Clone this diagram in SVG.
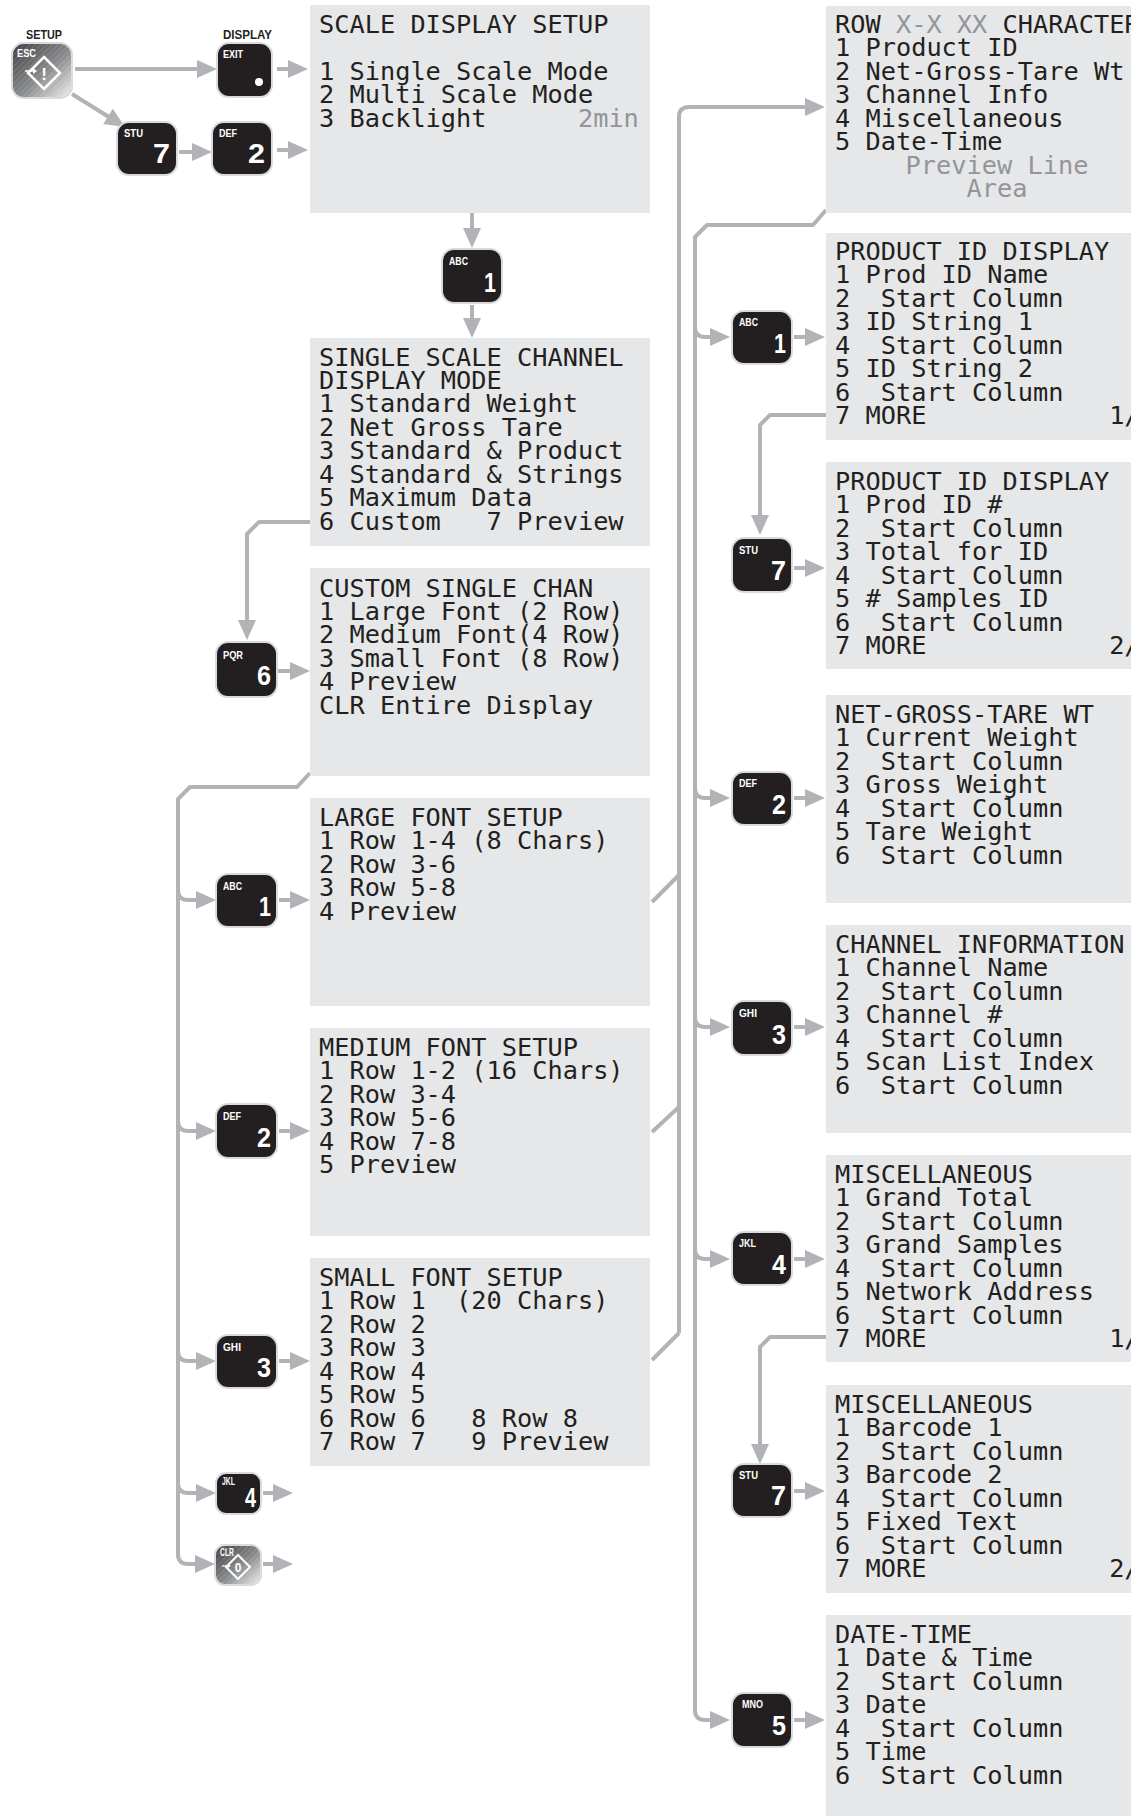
<svg xmlns="http://www.w3.org/2000/svg" width="1145" height="1816" viewBox="0 0 1145 1816">
<style>
.box{fill:#e6e7e8}
.t{font-family:"DejaVu Sans Mono","Liberation Mono",monospace;font-size:25.3px;fill:#231f20;white-space:pre}
.g{fill:#939598}
.c{fill:none;stroke:#b1b3b6;stroke-width:4;stroke-linejoin:round}
.ca{fill:none;stroke:#b1b3b6;stroke-width:4;stroke-linejoin:round;marker-end:url(#ah)}
.key{fill:#231f20;stroke:#d9dadb;stroke-width:2}
.kl{font-family:"Liberation Sans",Arial,sans-serif;font-weight:bold;font-size:11px;fill:#ffffff}
.kd{font-family:"Liberation Sans",Arial,sans-serif;font-weight:bold;font-size:28px;fill:#ffffff;text-anchor:end}
.top{font-family:"Liberation Sans",Arial,sans-serif;font-weight:bold;font-size:13px;fill:#231f20}
</style>
<defs>
<marker id="ah" markerUnits="userSpaceOnUse" markerWidth="22" markerHeight="20" refX="2" refY="9" orient="auto" overflow="visible"><path d="M0,0 L20,9 L0,18 Z" fill="#b1b3b6"/></marker>
<linearGradient id="sg" x1="0" y1="0" x2="1" y2="1"><stop offset="0" stop-color="#3c3c3e"/><stop offset="0.55" stop-color="#8a8b8d"/><stop offset="1" stop-color="#f2f2f2"/></linearGradient>
<pattern id="hatch" width="4" height="4" patternUnits="userSpaceOnUse" patternTransform="rotate(45)"><rect width="4" height="4" fill="none"/><line x1="0" y1="0" x2="0" y2="4" stroke="#ffffff" stroke-opacity="0.18" stroke-width="1.5"/></pattern>
<clipPath id="rc"><rect x="0" y="0" width="1131" height="1816"/></clipPath>
</defs>

<g id="connectors">
<path class="ca" d="M75,69 H199"/>
<path class="ca" d="M277,69 H290"/>
<path class="ca" d="M72,94 L109.7,117.5"/>
<path class="ca" d="M179,152 H194"/>
<path class="ca" d="M277,150 H290"/>
<path class="ca" d="M472,213 V230"/>
<path class="ca" d="M472,305 V320"/>
<path class="ca" d="M310,522 H259 L247,534 V622"/>
<path class="ca" d="M278,671 H292"/>
<path class="ca" d="M310,773 L297,787 H190 L178,799 V1554 Q178,1564 188,1564 H197"/>
<path class="ca" d="M178,890 Q178,900 188,900 H198"/>
<path class="ca" d="M178,1121 Q178,1131 188,1131 H198"/>
<path class="ca" d="M178,1351 Q178,1361 188,1361 H198"/>
<path class="ca" d="M178,1483 Q178,1493 188,1493 H198"/>
<path class="ca" d="M279,900 H292"/>
<path class="ca" d="M279,1131 H292"/>
<path class="ca" d="M279,1361 H292"/>
<path class="ca" d="M263,1493 H275"/>
<path class="ca" d="M263,1564 H275"/>
<path class="c" d="M652,902 L679,875"/>
<path class="c" d="M652,1132 L679,1107"/>
<path class="c" d="M652,1360 L679,1333"/>
<path class="ca" d="M679,1333 V117 Q679,107 689,107 H807"/>
<path class="ca" d="M826,210 L813,225 H707 L695,237 V1710 Q695,1720 705,1720 H712"/>
<path class="ca" d="M695,327 Q695,337 705,337 H712"/>
<path class="ca" d="M695,788 Q695,798 705,798 H712"/>
<path class="ca" d="M695,1017 Q695,1027 705,1027 H712"/>
<path class="ca" d="M695,1249 Q695,1259 705,1259 H712"/>
<path class="ca" d="M794,337 H807"/>
<path class="ca" d="M794,568 H807"/>
<path class="ca" d="M794,798 H807"/>
<path class="ca" d="M794,1027 H807"/>
<path class="ca" d="M794,1259 H807"/>
<path class="ca" d="M794,1491 H807"/>
<path class="ca" d="M794,1720 H807"/>
<path class="ca" d="M826,415 H770 L760,425 V517"/>
<path class="ca" d="M826,1337 H770 L760,1347 V1446"/>
</g>

<g id="key-setup">
<text class="top" x="26" y="39" textLength="36" lengthAdjust="spacingAndGlyphs">SETUP</text>
<rect x="12" y="43" width="60" height="55" rx="12" fill="url(#sg)" stroke="#d9dadb" stroke-width="2"/>
<rect x="12" y="43" width="60" height="55" rx="12" fill="url(#hatch)"/>
<text class="kl" x="17" y="57" textLength="19" lengthAdjust="spacingAndGlyphs">ESC</text>
<path d="M44,57 L60,73 L44,89 L28,73 Z" fill="none" stroke="#ffffff" stroke-width="2.5"/>
<path d="M25,71 H33" stroke="#ffffff" stroke-width="1.5"/>
<path d="M33,68 L37,71 L33,74 Z" fill="#ffffff"/>
<text x="44" y="80" font-family="Liberation Sans,Arial,sans-serif" font-weight="bold" font-size="17" fill="#ffffff" text-anchor="middle">!</text>
</g>

<g id="key-exit">
<text class="top" x="223" y="39" textLength="49" lengthAdjust="spacingAndGlyphs">DISPLAY</text>
<rect class="key" x="217" y="43" width="55" height="54" rx="12"/>
<text class="kl" x="223" y="58" textLength="20" lengthAdjust="spacingAndGlyphs">EXIT</text>
<circle cx="259" cy="82" r="4" fill="#ffffff"/>
</g>

<g id="key-stu7-top">
<rect class="key" x="117" y="122" width="60" height="53" rx="12"/>
<text class="kl" x="124" y="137" textLength="19" lengthAdjust="spacingAndGlyphs">STU</text>
<text class="kd" x="170" y="163" textLength="17" lengthAdjust="spacingAndGlyphs">7</text>
</g>
<g id="key-def2-top">
<rect class="key" x="212" y="122" width="60" height="53" rx="12"/>
<text class="kl" x="219" y="137" textLength="18" lengthAdjust="spacingAndGlyphs">DEF</text>
<text class="kd" x="265" y="163" textLength="17" lengthAdjust="spacingAndGlyphs">2</text>
</g>
<g id="key-abc1-mid">
<rect class="key" x="442" y="249" width="60" height="54" rx="12"/>
<text class="kl" x="449" y="265" textLength="19" lengthAdjust="spacingAndGlyphs">ABC</text>
<text class="kd" x="496" y="292" textLength="12" lengthAdjust="spacingAndGlyphs">1</text>
</g>
<g id="key-pqr6">
<rect class="key" x="216" y="642" width="61" height="55" rx="12"/>
<text class="kl" x="223" y="659" textLength="20" lengthAdjust="spacingAndGlyphs">PQR</text>
<text class="kd" x="271" y="685" textLength="14" lengthAdjust="spacingAndGlyphs">6</text>
</g>
<g id="key-abc1-left">
<rect class="key" x="216" y="874" width="61" height="53" rx="12"/>
<text class="kl" x="223" y="890" textLength="19" lengthAdjust="spacingAndGlyphs">ABC</text>
<text class="kd" x="271" y="916" textLength="12" lengthAdjust="spacingAndGlyphs">1</text>
</g>
<g id="key-def2-left">
<rect class="key" x="216" y="1104" width="61" height="54" rx="12"/>
<text class="kl" x="223" y="1120" textLength="18" lengthAdjust="spacingAndGlyphs">DEF</text>
<text class="kd" x="271" y="1147" textLength="14" lengthAdjust="spacingAndGlyphs">2</text>
</g>
<g id="key-ghi3-left">
<rect class="key" x="216" y="1335" width="61" height="53" rx="12"/>
<text class="kl" x="223" y="1351" textLength="18" lengthAdjust="spacingAndGlyphs">GHI</text>
<text class="kd" x="271" y="1377" textLength="14" lengthAdjust="spacingAndGlyphs">3</text>
</g>
<g id="key-jkl4-left">
<rect class="key" x="216" y="1473" width="45" height="41" rx="10"/>
<text class="kl" x="222" y="1485" font-size="9" textLength="13" lengthAdjust="spacingAndGlyphs">JKL</text>
<text class="kd" x="256" y="1507" font-size="22" textLength="11" lengthAdjust="spacingAndGlyphs">4</text>
</g>
<g id="key-clr">
<rect x="215" y="1545" width="46" height="40" rx="10" fill="url(#sg)" stroke="#d9dadb" stroke-width="2"/>
<rect x="215" y="1545" width="46" height="40" rx="10" fill="url(#hatch)"/>
<text class="kl" x="220" y="1556" font-size="9" textLength="14" lengthAdjust="spacingAndGlyphs">CLR</text>
<path d="M238,1555 L250,1567 L238,1579 L226,1567 Z" fill="none" stroke="#ffffff" stroke-width="2"/>
<path d="M222,1566 H228" stroke="#ffffff" stroke-width="1.2"/>
<path d="M228,1564 L231,1566 L228,1568 Z" fill="#ffffff"/>
<text x="238" y="1572" font-family="Liberation Sans,Arial,sans-serif" font-weight="bold" font-size="12" fill="#ffffff" text-anchor="middle">0</text>
</g>

<g id="key-abc1-right">
<rect class="key" x="732" y="311" width="60" height="53" rx="12"/>
<text class="kl" x="739" y="326" textLength="19" lengthAdjust="spacingAndGlyphs">ABC</text>
<text class="kd" x="786" y="353" textLength="12" lengthAdjust="spacingAndGlyphs">1</text>
</g>
<g id="key-stu7-r1">
<rect class="key" x="732" y="538" width="60" height="54" rx="12"/>
<text class="kl" x="739" y="554" textLength="19" lengthAdjust="spacingAndGlyphs">STU</text>
<text class="kd" x="786" y="580" textLength="15" lengthAdjust="spacingAndGlyphs">7</text>
</g>
<g id="key-def2-right">
<rect class="key" x="732" y="772" width="60" height="53" rx="12"/>
<text class="kl" x="739" y="787" textLength="18" lengthAdjust="spacingAndGlyphs">DEF</text>
<text class="kd" x="786" y="814" textLength="14" lengthAdjust="spacingAndGlyphs">2</text>
</g>
<g id="key-ghi3-right">
<rect class="key" x="732" y="1001" width="60" height="54" rx="12"/>
<text class="kl" x="739" y="1017" textLength="18" lengthAdjust="spacingAndGlyphs">GHI</text>
<text class="kd" x="786" y="1044" textLength="14" lengthAdjust="spacingAndGlyphs">3</text>
</g>
<g id="key-jkl4-right">
<rect class="key" x="732" y="1232" width="60" height="53" rx="12"/>
<text class="kl" x="739" y="1247" textLength="17" lengthAdjust="spacingAndGlyphs">JKL</text>
<text class="kd" x="786" y="1274" textLength="14" lengthAdjust="spacingAndGlyphs">4</text>
</g>
<g id="key-stu7-r2">
<rect class="key" x="732" y="1464" width="60" height="53" rx="12"/>
<text class="kl" x="739" y="1479" textLength="19" lengthAdjust="spacingAndGlyphs">STU</text>
<text class="kd" x="786" y="1505" textLength="15" lengthAdjust="spacingAndGlyphs">7</text>
</g>
<g id="key-mno5">
<rect class="key" x="732" y="1693" width="60" height="54" rx="12"/>
<text class="kl" x="742" y="1708" textLength="21" lengthAdjust="spacingAndGlyphs">MNO</text>
<text class="kd" x="786" y="1735" textLength="14" lengthAdjust="spacingAndGlyphs">5</text>
</g>

<g id="box-scale-display-setup">
<rect class="box" x="310" y="5" width="340" height="208"/>
<text class="t" xml:space="preserve" x="319" y="33"><tspan x="319" y="33">SCALE DISPLAY SETUP</tspan><tspan x="319" y="79.9">1 Single Scale Mode</tspan><tspan x="319" y="103.3">2 Multi Scale Mode</tspan><tspan x="319" y="126.7">3 Backlight      <tspan class="g">2min</tspan></tspan></text>
</g>

<g id="box-single-scale">
<rect class="box" x="310" y="338" width="340" height="208"/>
<text class="t" xml:space="preserve"><tspan x="319" y="365.5">SINGLE SCALE CHANNEL</tspan><tspan x="319" y="388.9">DISPLAY MODE</tspan><tspan x="319" y="412.4">1 Standard Weight</tspan><tspan x="319" y="435.8">2 Net Gross Tare</tspan><tspan x="319" y="459.2">3 Standard &amp; Product</tspan><tspan x="319" y="482.7">4 Standard &amp; Strings</tspan><tspan x="319" y="506.1">5 Maximum Data</tspan><tspan x="319" y="529.5">6 Custom   7 Preview</tspan></text>
</g>

<g id="box-custom-single">
<rect class="box" x="310" y="568" width="340" height="208"/>
<text class="t" xml:space="preserve"><tspan x="319" y="596.5">CUSTOM SINGLE CHAN</tspan><tspan x="319" y="619.9">1 Large Font (2 Row)</tspan><tspan x="319" y="643.4">2 Medium Font(4 Row)</tspan><tspan x="319" y="666.8">3 Small Font (8 Row)</tspan><tspan x="319" y="690.2">4 Preview</tspan><tspan x="319" y="713.7">CLR Entire Display</tspan></text>
</g>

<g id="box-large-font">
<rect class="box" x="310" y="798" width="340" height="208"/>
<text class="t" xml:space="preserve"><tspan x="319" y="826">LARGE FONT SETUP</tspan><tspan x="319" y="849.4">1 Row 1-4 (8 Chars)</tspan><tspan x="319" y="872.9">2 Row 3-6</tspan><tspan x="319" y="896.3">3 Row 5-8</tspan><tspan x="319" y="919.7">4 Preview</tspan></text>
</g>

<g id="box-medium-font">
<rect class="box" x="310" y="1028" width="340" height="208"/>
<text class="t" xml:space="preserve"><tspan x="319" y="1056">MEDIUM FONT SETUP</tspan><tspan x="319" y="1079.4">1 Row 1-2 (16 Chars)</tspan><tspan x="319" y="1102.9">2 Row 3-4</tspan><tspan x="319" y="1126.3">3 Row 5-6</tspan><tspan x="319" y="1149.7">4 Row 7-8</tspan><tspan x="319" y="1173.2">5 Preview</tspan></text>
</g>

<g id="box-small-font">
<rect class="box" x="310" y="1258" width="340" height="208"/>
<text class="t" xml:space="preserve"><tspan x="319" y="1286">SMALL FONT SETUP</tspan><tspan x="319" y="1309.4">1 Row 1  (20 Chars)</tspan><tspan x="319" y="1332.9">2 Row 2</tspan><tspan x="319" y="1356.3">3 Row 3</tspan><tspan x="319" y="1379.7">4 Row 4</tspan><tspan x="319" y="1403.2">5 Row 5</tspan><tspan x="319" y="1426.6">6 Row 6   8 Row 8</tspan><tspan x="319" y="1450">7 Row 7   9 Preview</tspan></text>
</g>

<g id="box-row-characters" clip-path="url(#rc)">
<rect class="box" x="826" y="6" width="305" height="207"/>
<text class="t" xml:space="preserve"><tspan x="835" y="33">ROW <tspan class="g">X-X XX</tspan> CHARACTERS</tspan><tspan x="835" y="56.4">1 Product ID</tspan><tspan x="835" y="79.9">2 Net-Gross-Tare Wt</tspan><tspan x="835" y="103.3">3 Channel Info</tspan><tspan x="835" y="126.7">4 Miscellaneous</tspan><tspan x="835" y="150.2">5 Date-Time</tspan></text>
<text class="t g" text-anchor="middle"><tspan x="997" y="173.6">Preview Line</tspan><tspan x="997" y="197">Area</tspan></text>
</g>

<g id="box-product-id-1" clip-path="url(#rc)">
<rect class="box" x="826" y="233" width="305" height="207"/>
<text class="t" xml:space="preserve"><tspan x="835" y="260">PRODUCT ID DISPLAY</tspan><tspan x="835" y="283.4">1 Prod ID Name</tspan><tspan x="835" y="306.9">2  Start Column</tspan><tspan x="835" y="330.3">3 ID String 1</tspan><tspan x="835" y="353.7">4  Start Column</tspan><tspan x="835" y="377.2">5 ID String 2</tspan><tspan x="835" y="400.6">6  Start Column</tspan><tspan x="835" y="424">7 MORE            1/2</tspan></text>
</g>

<g id="box-product-id-2" clip-path="url(#rc)">
<rect class="box" x="826" y="462" width="305" height="207"/>
<text class="t" xml:space="preserve"><tspan x="835" y="490">PRODUCT ID DISPLAY</tspan><tspan x="835" y="513.4">1 Prod ID #</tspan><tspan x="835" y="536.9">2  Start Column</tspan><tspan x="835" y="560.3">3 Total for ID</tspan><tspan x="835" y="583.7">4  Start Column</tspan><tspan x="835" y="607.2">5 # Samples ID</tspan><tspan x="835" y="630.6">6  Start Column</tspan><tspan x="835" y="654">7 MORE            2/2</tspan></text>
</g>

<g id="box-net-gross-tare" clip-path="url(#rc)">
<rect class="box" x="826" y="695" width="305" height="208"/>
<text class="t" xml:space="preserve"><tspan x="835" y="723">NET-GROSS-TARE WT</tspan><tspan x="835" y="746.4">1 Current Weight</tspan><tspan x="835" y="769.9">2  Start Column</tspan><tspan x="835" y="793.3">3 Gross Weight</tspan><tspan x="835" y="816.7">4  Start Column</tspan><tspan x="835" y="840.2">5 Tare Weight</tspan><tspan x="835" y="863.6">6  Start Column</tspan></text>
</g>

<g id="box-channel-info" clip-path="url(#rc)">
<rect class="box" x="826" y="925" width="305" height="208"/>
<text class="t" xml:space="preserve"><tspan x="835" y="953">CHANNEL INFORMATION</tspan><tspan x="835" y="976.4">1 Channel Name</tspan><tspan x="835" y="999.9">2  Start Column</tspan><tspan x="835" y="1023.3">3 Channel #</tspan><tspan x="835" y="1046.7">4  Start Column</tspan><tspan x="835" y="1070.2">5 Scan List Index</tspan><tspan x="835" y="1093.6">6  Start Column</tspan></text>
</g>

<g id="box-misc-1" clip-path="url(#rc)">
<rect class="box" x="826" y="1155" width="305" height="207"/>
<text class="t" xml:space="preserve"><tspan x="835" y="1183">MISCELLANEOUS</tspan><tspan x="835" y="1206.4">1 Grand Total</tspan><tspan x="835" y="1229.9">2  Start Column</tspan><tspan x="835" y="1253.3">3 Grand Samples</tspan><tspan x="835" y="1276.7">4  Start Column</tspan><tspan x="835" y="1300.2">5 Network Address</tspan><tspan x="835" y="1323.6">6  Start Column</tspan><tspan x="835" y="1347">7 MORE            1/2</tspan></text>
</g>

<g id="box-misc-2" clip-path="url(#rc)">
<rect class="box" x="826" y="1385" width="305" height="208"/>
<text class="t" xml:space="preserve"><tspan x="835" y="1413">MISCELLANEOUS</tspan><tspan x="835" y="1436.4">1 Barcode 1</tspan><tspan x="835" y="1459.9">2  Start Column</tspan><tspan x="835" y="1483.3">3 Barcode 2</tspan><tspan x="835" y="1506.7">4  Start Column</tspan><tspan x="835" y="1530.2">5 Fixed Text</tspan><tspan x="835" y="1553.6">6  Start Column</tspan><tspan x="835" y="1577">7 MORE            2/2</tspan></text>
</g>

<g id="box-date-time" clip-path="url(#rc)">
<rect class="box" x="826" y="1615" width="305" height="201"/>
<text class="t" xml:space="preserve"><tspan x="835" y="1643">DATE-TIME</tspan><tspan x="835" y="1666.4">1 Date &amp; Time</tspan><tspan x="835" y="1689.9">2  Start Column</tspan><tspan x="835" y="1713.3">3 Date</tspan><tspan x="835" y="1736.7">4  Start Column</tspan><tspan x="835" y="1760.2">5 Time</tspan><tspan x="835" y="1783.6">6  Start Column</tspan></text>
</g>
</svg>
